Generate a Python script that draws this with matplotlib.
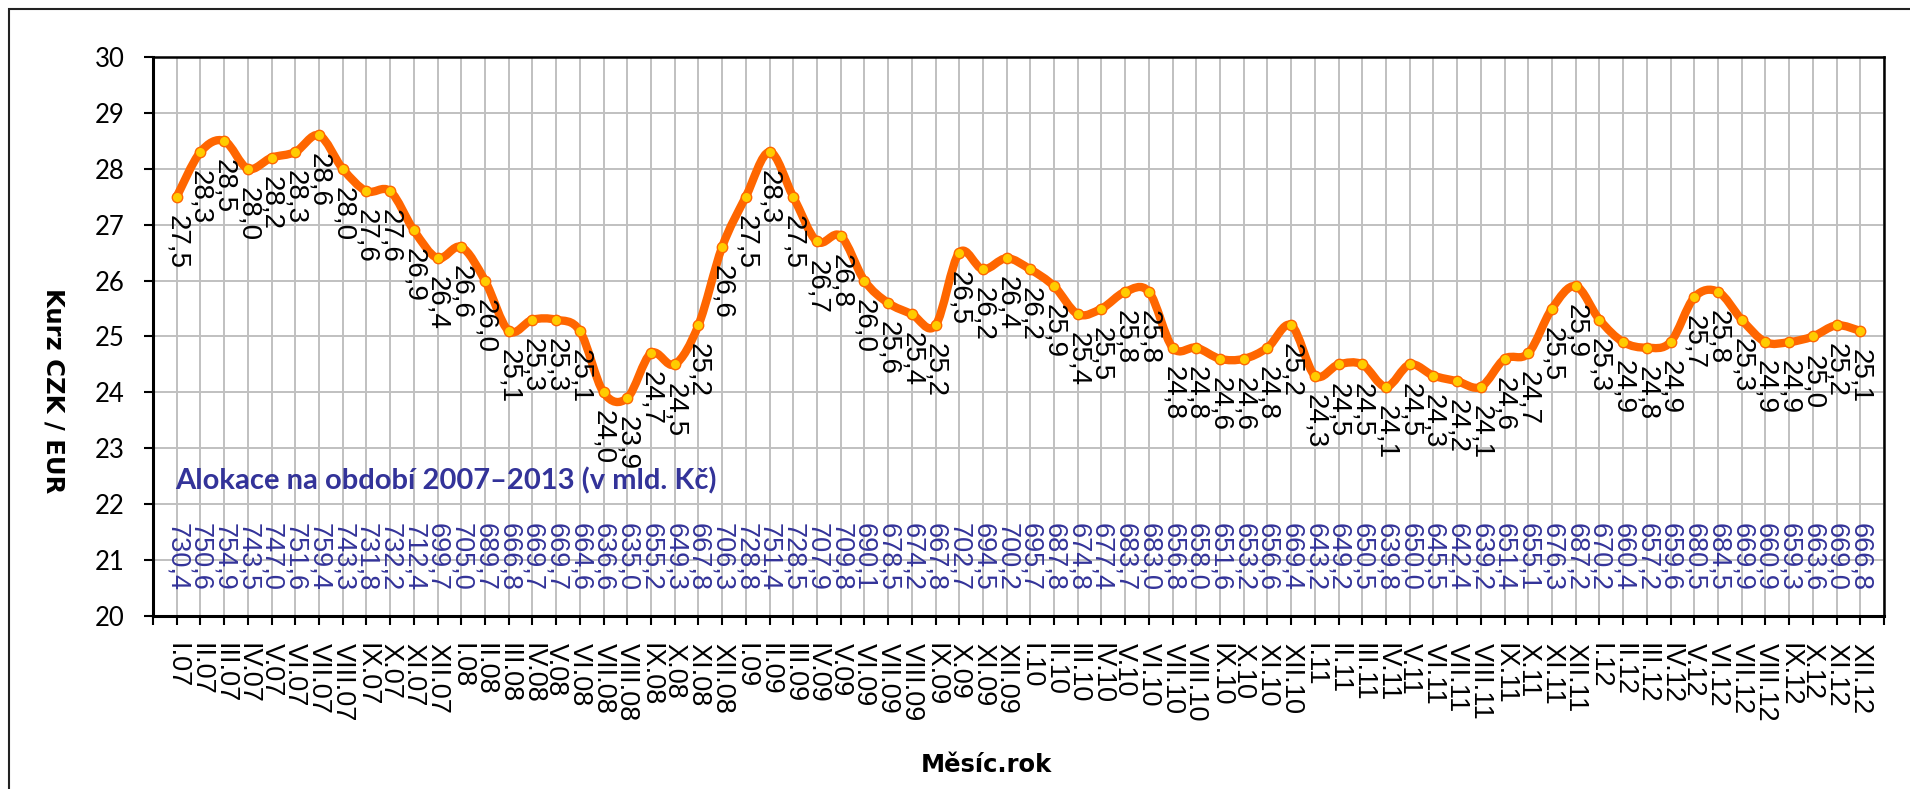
import matplotlib
matplotlib.use("Agg")
import matplotlib.pyplot as plt
from matplotlib.path import Path
from matplotlib.patches import PathPatch, Rectangle

plt.rcParams['font.family'] = ['Liberation Sans', 'DejaVu Sans']

# months I.07 .. XII.12
roman = ["I", "II", "III", "IV", "V", "VI", "VII", "VIII", "IX", "X", "XI", "XII"]
years = ["07", "08", "09", "10", "11", "12"]
months = [m + "." + y for y in years for m in roman]

# CZK/EUR exchange rate
rate = [27.5, 28.3, 28.5, 28.0, 28.2, 28.3, 28.6, 28.0, 27.6, 27.6, 26.9, 26.4,
        26.6, 26.0, 25.1, 25.3, 25.3, 25.1, 24.0, 23.9, 24.7, 24.5, 25.2, 26.6,
        27.5, 28.3, 27.5, 26.7, 26.8, 26.0, 25.6, 25.4, 25.2, 26.5, 26.2, 26.4,
        26.2, 25.9, 25.4, 25.5, 25.8, 25.8, 24.8, 24.8, 24.6, 24.6, 24.8, 25.2,
        24.3, 24.5, 24.5, 24.1, 24.5, 24.3, 24.2, 24.1, 24.6, 24.7, 25.5, 25.9,
        25.3, 24.9, 24.8, 24.9, 25.7, 25.8, 25.3, 24.9, 24.9, 25.0, 25.2, 25.1]

# allocation 2007-2013 in bn CZK
alokace = [730.4, 750.6, 754.9, 743.5, 747.0, 751.6, 759.4, 743.3, 731.8, 732.2, 712.4, 699.7,
           705.0, 689.7, 666.8, 669.7, 669.7, 664.6, 636.6, 635.0, 655.2, 649.3, 667.8, 706.3,
           728.8, 751.4, 728.5, 707.9, 709.8, 690.1, 678.5, 674.2, 667.8, 702.7, 694.5, 700.2,
           695.7, 687.8, 674.8, 677.4, 683.7, 683.0, 656.8, 658.0, 651.6, 653.2, 656.6, 669.4,
           643.2, 649.2, 650.5, 639.8, 650.0, 645.5, 642.4, 639.2, 651.4, 655.1, 676.3, 687.2,
           670.2, 660.4, 657.2, 659.6, 680.5, 684.5, 669.9, 660.9, 659.3, 663.6, 669.0, 666.8]

ORANGE = "#FF6600"
BLUE = "#333399"

fig = plt.figure(figsize=(19.1, 7.89), dpi=100)
ax = fig.add_axes([153/1910, 1 - 616/789, (1884 - 153)/1910, (616 - 57)/789])

x = list(range(len(rate)))

# smoothed line (bezier through the points, like Excel's smooth line)
verts = [(x[0], rate[0])]
codes = [Path.MOVETO]
n = len(rate)
for i in range(n - 1):
    p0 = (x[max(i - 1, 0)], rate[max(i - 1, 0)])
    p1 = (x[i], rate[i])
    p2 = (x[i + 1], rate[i + 1])
    p3 = (x[min(i + 2, n - 1)], rate[min(i + 2, n - 1)])
    c1 = (p1[0] + (p2[0] - p0[0]) / 6, p1[1] + (p2[1] - p0[1]) / 6)
    c2 = (p2[0] - (p3[0] - p1[0]) / 6, p2[1] - (p3[1] - p1[1]) / 6)
    verts += [c1, c2, p2]
    codes += [Path.CURVE4] * 3
ax.add_patch(PathPatch(Path(verts, codes), facecolor="none", edgecolor=ORANGE,
                       lw=6, capstyle="round", joinstyle="round", zorder=3))
ax.plot(x, rate, "o", ms=7.5, mfc="#FFCC00", mec=ORANGE, mew=1, zorder=4)

for xi, v in zip(x, rate):
    ax.annotate(f"{v:.1f}".replace(".", ","), (xi, v), xytext=(0, -13),
                textcoords="offset points", rotation=270, ha="center", va="top",
                fontsize=20, color="black", zorder=5)

for xi, a in zip(x, alokace):
    ax.text(xi, 21.66, f"{a:.1f}".replace(".", ","), rotation=270, ha="center",
            va="top", fontsize=19.5, color=BLUE, zorder=5)

ax.text(-0.05, 22.42, "Alokace na období 2007–2013 (v mld. Kč)", ha="left",
        va="center", fontsize=21, fontweight="bold", color=BLUE,
        family=["Lato", "DejaVu Sans"], zorder=5)

ax.set_xlim(-1, 72)
ax.set_ylim(20, 30)
ax.set_yticks(range(20, 31))
ax.set_xticks(range(-1, 73))
ax.set_xticklabels([""] + months + [""], rotation=270, fontsize=19.5)
ax.tick_params(axis="x", direction="out", length=6.5, width=1.5, pad=13)
ax.tick_params(axis="y", direction="out", length=6.5, width=1.5, pad=14,
               labelsize=18.5)
for lab in ax.get_yticklabels():
    lab.set_family(["Lato", "DejaVu Sans"])

ax.grid(True, color="#C0C0C0", lw=1.4)
ax.set_axisbelow(True)
for side in ["left", "bottom"]:
    ax.spines[side].set_linewidth(2.2)
for side in ["top", "right"]:
    ax.spines[side].set_linewidth(1.8)

fig.text(53/1910, 1 - 391/789, "Kurz CZK / EUR", rotation=270, ha="center",
         va="center", fontsize=17.5, fontweight="bold", family="DejaVu Sans")
fig.text(986/1910, 1 - 765/789, "Měsíc.rok", ha="center", va="center",
         fontsize=17.5, fontweight="bold", family="DejaVu Sans")

# outer chart frame
fig.add_artist(Rectangle((9/1910, -0.1), 2, 1.1 - 9/789, transform=fig.transFigure,
                         fill=False, edgecolor="#222222", lw=1.5))

fig.savefig("out.png", dpi=100)
